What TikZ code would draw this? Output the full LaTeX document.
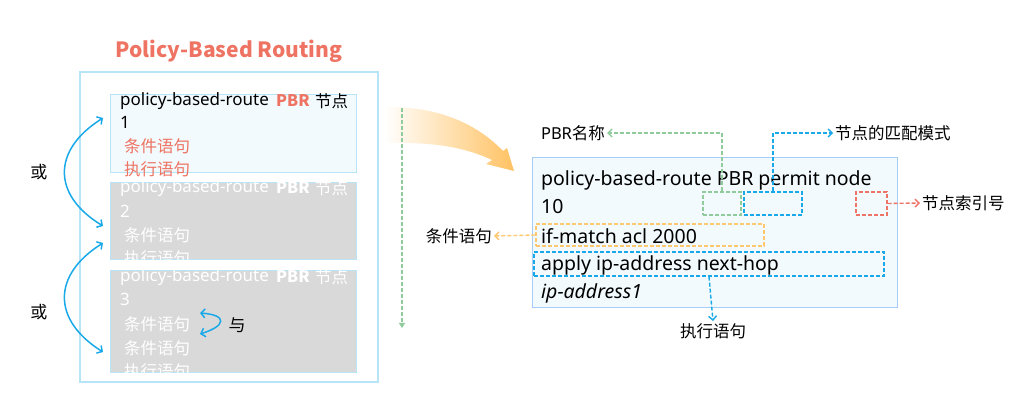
\documentclass[tikz,border=0pt]{standalone}
\usepackage{fontspec}
\setmainfont{Noto Sans}
\newfontfamily\cjk{Noto Sans CJK SC}
\usetikzlibrary{arrows.meta}
\definecolor{salmon}{HTML}{EE7362}
\definecolor{lblue}{HTML}{B8E4F7}
\definecolor{pale}{HTML}{F2FAFD}
\definecolor{gboxc}{HTML}{D9D9D9}
\definecolor{arrblue}{HTML}{1AA9E8}
\definecolor{dgreen}{HTML}{8FCB9B}
\definecolor{dorange}{HTML}{FFC870}
\definecolor{dred}{HTML}{EF7468}
\definecolor{bigor}{HTML}{FFC263}
\tikzset{
  outerbox/.style={draw=lblue, line width=1.2pt, minimum width=298pt, minimum height=310pt, inner sep=0},
  lbox/.style={draw=lblue, line width=1pt, fill=pale, inner sep=0},
  gbox/.style={draw=lblue, line width=1pt, fill=gboxc, inner sep=0},
  rbox/.style={draw=lblue!90!blue, line width=1pt, fill=pale, inner sep=0},
  dbox/.style={draw=#1, dashed, dash pattern=on 4pt off 2pt, line width=1.4pt, inner sep=0},
  ltxt/.style={anchor=west, inner sep=0, font=\fontsize{17}{19}\selectfont},
  lzh/.style={anchor=west, inner sep=0, font=\fontsize{16.5}{18}\selectfont\cjk},
  lpbr/.style={anchor=west, inner sep=0, font=\fontsize{16}{18}\selectfont\cjk\bfseries},
  rtxt/.style={anchor=west, inner sep=0, font=\fontsize{19.5}{22}\selectfont},
  lbl/.style={inner sep=2pt, font=\fontsize{16.5}{18}\selectfont\cjk},
  ortxt/.style={inner sep=0, font=\fontsize{17}{19}\selectfont\cjk},
  bluearrow/.style={draw=arrblue, line width=1.5pt, {Straight Barb[length=4pt,width=9pt]}-{Straight Barb[length=4pt,width=9pt]}},
  dashconn/.style={draw=#1, dashed, dash pattern=on 4pt off 2pt, line width=1.4pt, -{Straight Barb[length=4pt,width=8pt]}},
}
\begin{document}
\begin{tikzpicture}[x=1pt,y=-1pt]
\useasboundingbox (0,0) rectangle (1034,403);
% title
\node[inner sep=0, text=salmon, font=\fontsize{21}{24}\selectfont\cjk\bfseries] (title) at (229,51) {Policy-Based Routing};
% left boxes
\node[outerbox] (outer) at (229,227) {};
\node[lbox, minimum width=246pt, minimum height=78pt] (b1) at (233,134) {};
\node[gbox, minimum width=246pt, minimum height=77pt] (b2) at (233,221.5) {};
\node[gbox, minimum width=246pt, minimum height=102pt] (b3) at (233,322) {};
% box 1 text
\node[ltxt] (b1a) at (120,101) {policy-based-route};
\node[lpbr, text=salmon] (b1p) at (276,101) {PBR};
\node[lzh] (b1n) at (315,101) {节点};
\node[ltxt] (b1b) at (120,122) {1};
\node[lzh, text=salmon] (b1c) at (124,146) {条件语句};
\node[lzh, text=salmon] (b1d) at (124,169) {执行语句};
% box 2 text
\begin{scope}
\clip (110,183) rectangle (356,260);
\node[ltxt, text=white] (b2a) at (120,188) {policy-based-route};
\node[lpbr, text=white] (b2p) at (276,188) {PBR};
\node[lzh, text=white] (b2n) at (315,188) {节点};
\node[ltxt, text=white] (b2b) at (120,211) {2};
\node[lzh, text=white] (b2c) at (124,235) {条件语句};
\node[lzh, text=white] (b2d) at (124,258) {执行语句};
\end{scope}
% box 3 text
\begin{scope}
\clip (110,271) rectangle (356,373);
\node[ltxt, text=white] (b3a) at (120,277) {policy-based-route};
\node[lpbr, text=white] (b3p) at (276,277) {PBR};
\node[lzh, text=white] (b3n) at (315,277) {节点};
\node[ltxt, text=white] (b3b) at (120,299) {3};
\node[lzh, text=white] (b3c) at (124,324) {条件语句};
\node[lzh, text=white] (b3d) at (124,348) {条件语句};
\node[lzh, text=white] (b3e) at (124,371) {执行语句};
\end{scope}
% or / and
\node[ortxt] (or1) at (39,172) {或};
\node[ortxt] (or2) at (39,312) {或};
\node[ortxt] (and) at (237,325) {与};
\coordinate (p1) at (103,118);
\coordinate (p2) at (103,226);
\coordinate (p3) at (103,243);
\coordinate (p4) at (103,352);
\draw[bluearrow] (p1) .. controls (52,150) and (52,195) .. (p2);
\draw[bluearrow] (p3) .. controls (52,275) and (52,320) .. (p4);
\coordinate (q1) at (200,313);
\coordinate (q2) at (200,334);
\draw[bluearrow] (q1) .. controls (228,315) and (226,326) .. (q2);
% big curved arrow
\shade[left color=white, right color=bigor] (384,107) .. controls (440,106) and (478,125) .. (503,151)
  -- (507,148) -- (514,171) -- (486,164) -- (492,160)
  .. controls (462,146) and (430,142) .. (384,143) -- cycle;
% green vertical dashed
\coordinate (vtop) at (402,108);
\coordinate (vbot) at (402,328);
\draw[draw=dgreen, dashed, dash pattern=on 4pt off 2pt, line width=1.3pt, -{Triangle[length=5pt,width=6pt]}] (vtop) -- (vbot);
% right box
\node[rbox, minimum width=365pt, minimum height=150pt] (rb) at (714.5,233) {};
\node[rtxt] (r1) at (541,180) {policy-based-route PBR permit node};
\node[rtxt] (r2) at (541,207) {10};
\node[rtxt] (r3) at (541,236) {if-match acl 2000};
\node[rtxt] (r4) at (541,265) { apply ip-address next-hop};
\node[rtxt, font=\fontsize{19.5}{22}\selectfont\itshape] (r5) at (541,293) {ip-address1};
% dashed boxes
\node[dbox=dgreen, minimum width=38pt, minimum height=23pt] (gb) at (722,203.5) {};
\node[dbox=arrblue, minimum width=58pt, minimum height=23pt] (bb) at (773,203.5) {};
\node[dbox=dred, minimum width=31pt, minimum height=23pt] (rdb) at (871.5,203.5) {};
\node[dbox=dorange, minimum width=228pt, minimum height=22pt] (ob) at (650,235) {};
\node[dbox=arrblue, minimum width=350pt, minimum height=24pt] (ab) at (709,264) {};
% labels
\node[lbl] (lname) at (573,133) {\fontspec{Noto Sans}PBR\cjk 名称};
\node[lbl, anchor=west] (lmode) at (833,133) {节点的匹配模式};
\node[lbl, anchor=west] (lidx) at (920,203) {节点索引号};
\node[lbl, anchor=east] (lcond) at (494,236) {条件语句};
\node[lbl, anchor=north] (lexec) at (713,321) {执行语句};
% connectors
\draw[dashconn=dgreen] (gb.north) |- (lname.east);
\draw[dashconn=arrblue] (bb.north) |- (lmode.west);
\draw[dashconn=dred] (rdb.east) -- (lidx.west);
\draw[dashconn=dorange] (ob.west) -- (lcond.east);
\draw[dashconn=arrblue] (ab.south) -- (lexec.north);
\end{tikzpicture}
\end{document}
